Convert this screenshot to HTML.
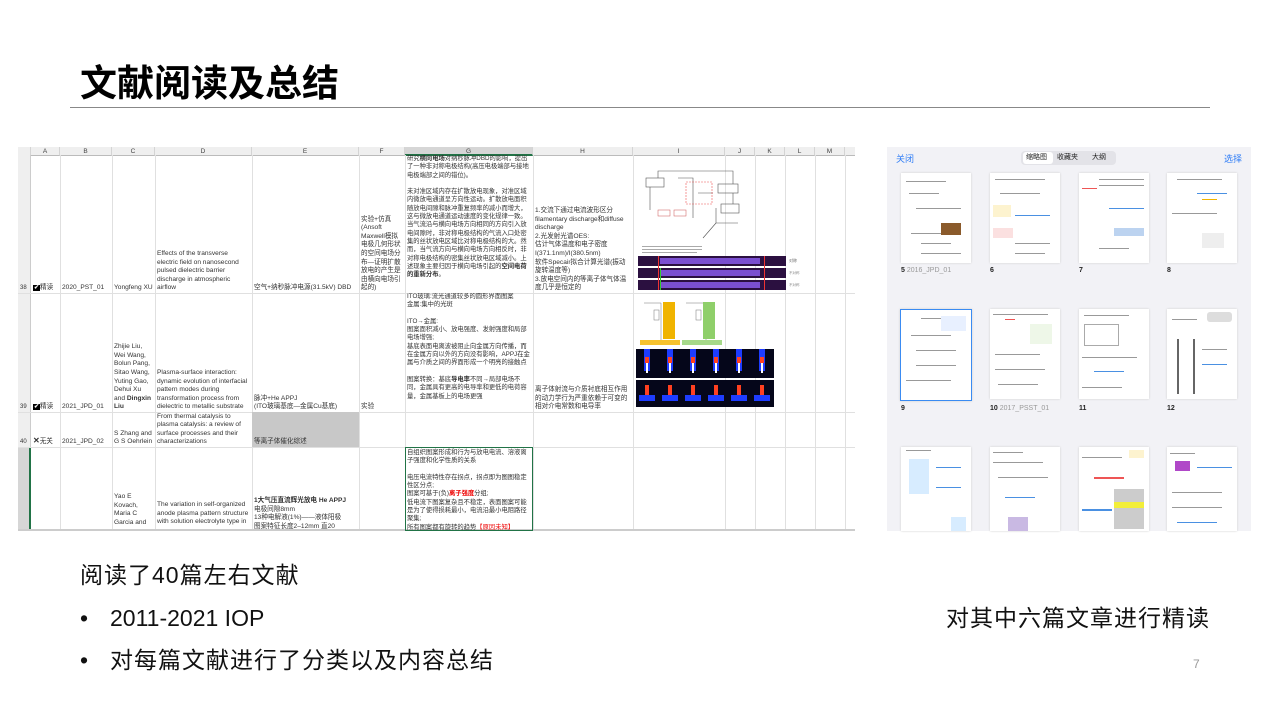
<!DOCTYPE html>
<html><head><meta charset="utf-8"><style>
*{margin:0;padding:0;box-sizing:border-box}
body{width:1280px;height:720px;background:#fff;position:relative;overflow:hidden;font-family:"Liberation Sans","Noto Sans CJK SC",sans-serif;color:#000}
.a{position:absolute}
.c{position:absolute;font-size:6.6px;line-height:8.6px;color:#333;display:flex;flex-direction:column;justify-content:flex-end;padding:0 2px;overflow:hidden}
.g{font-size:6.3px;line-height:8.3px}
.hd{position:absolute;top:147px;height:9px;font-size:6.5px;color:#444;text-align:center;line-height:9px;background:#efefef;border-right:1px solid #d4d4d4;border-bottom:1px solid #bbb}
.vl{position:absolute;top:155px;height:376px;width:1px;background:#e0e0e0}
.hl{position:absolute;left:18px;width:837px;height:1px;background:#e0e0e0}
.th{position:absolute;width:70px;height:90px;background:#fff;box-shadow:0 0 2px #ccc;overflow:hidden}
.th i{position:absolute;height:1px;background:#999}
.lb{position:absolute;font-size:7px;color:#222;font-weight:bold}
.lb span{color:#999;font-weight:normal}
.t{position:absolute;font-size:23px;line-height:28px;color:#111}
</style></head><body>
<div class="a" style="left:80px;top:58px;font-size:37px;font-weight:bold;font-family:'Noto Sans CJK SC',sans-serif;line-height:44px">文献阅读及总结</div>
<div class="a" style="left:70px;top:107px;width:1140px;height:1px;background:#888"></div>

<div class="a" style="left:18px;top:147px;width:837px;height:384px;background:#fff"></div>
<div class="hd" style="left:18px;width:13px"></div>
<div class="hd" style="left:31px;width:29px">A</div>
<div class="hd" style="left:60px;width:52px">B</div>
<div class="hd" style="left:112px;width:43px">C</div>
<div class="hd" style="left:155px;width:97px">D</div>
<div class="hd" style="left:252px;width:107px">E</div>
<div class="hd" style="left:359px;width:46px">F</div>
<div class="hd" style="left:405px;width:128px;background:#d6d6d6;border-bottom:2px solid #217346">G</div>
<div class="hd" style="left:533px;width:100px">H</div>
<div class="hd" style="left:633px;width:92px">I</div>
<div class="hd" style="left:725px;width:30px">J</div>
<div class="hd" style="left:755px;width:30px">K</div>
<div class="hd" style="left:785px;width:30px">L</div>
<div class="hd" style="left:815px;width:30px">M</div>
<div class="hd" style="left:845px;width:10px;border-right:none"></div>
<div class="a" style="left:18px;top:155px;width:13px;height:376px;background:#efefef;border-right:1px solid #ccc"></div>
<div class="a" style="left:18px;top:447px;width:13px;height:84px;background:#d6d6d6;border-right:2px solid #217346"></div>
<div class="vl" style="left:60px"></div><div class="vl" style="left:112px"></div><div class="vl" style="left:155px"></div><div class="vl" style="left:252px"></div><div class="vl" style="left:359px"></div><div class="vl" style="left:405px"></div><div class="vl" style="left:533px"></div><div class="vl" style="left:633px"></div><div class="vl" style="left:725px"></div><div class="vl" style="left:755px"></div><div class="vl" style="left:785px"></div><div class="vl" style="left:815px"></div><div class="vl" style="left:845px"></div>
<div class="hl" style="top:293px"></div><div class="hl" style="top:412px"></div><div class="hl" style="top:447px"></div><div class="a" style="left:18px;top:529px;width:837px;height:2px;background:#ccc"></div>
<div class="a" style="left:252px;top:412px;width:107px;height:35px;background:#c8c8c8"></div>
<div class="a" style="left:405px;top:447px;width:128px;height:84px;border:1.5px solid #217346"></div>

<!-- row 38 -->
<div class="c" style="left:18px;top:155px;width:13px;height:138px;font-size:6px"><div>38</div></div>
<div class="c" style="left:31px;top:155px;width:29px;height:138px"><div><b style="background:#000;color:#fff;font-size:6px;padding:0 1px">✔</b>精读</div></div>
<div class="c" style="left:60px;top:155px;width:52px;height:138px"><div>2020_PST_01</div></div>
<div class="c" style="left:112px;top:155px;width:43px;height:138px"><div>Yongfeng XU</div></div>
<div class="c" style="left:155px;top:155px;width:97px;height:138px"><div>Effects of the transverse electric field on nanosecond pulsed dielectric barrier discharge in atmospheric airflow</div></div>
<div class="c" style="left:252px;top:155px;width:107px;height:138px;white-space:nowrap"><div>空气+纳秒脉冲电源(31.5kV) DBD</div></div>
<div class="c" style="left:359px;top:155px;width:46px;height:138px"><div>实验+仿真(Ansoft Maxwell模拟电极几何形状的空间电场分布—证明扩散放电的产生是由横向电场引起的)</div></div>
<div class="c g" style="left:405px;top:155px;width:128px;height:138px;justify-content:flex-start"><div>研究<b>横向电场</b>对纳秒脉冲DBD的影响，提出了一种非对称电极结构(高压电极端部与接地电极端部之间的错位)。<br><br>未对准区域内存在扩散放电现象，对准区域内微放电通道呈方向性运动。扩散放电面积随放电间隙和脉冲重复频率的减小而增大，这与微放电通道运动速度的变化规律一致。当气流沿与横向电场方向相同的方向引入放电间隙时，非对称电极结构的气流入口处密集的丝状放电区域比对称电极结构的大。然而，当气流方向与横向电场方向相反时，非对称电极结构的密集丝状放电区域减小。上述现象主要归因于横向电场引起的<b>空间电荷的重新分布</b>。</div></div>
<div class="c" style="left:533px;top:155px;width:100px;height:138px"><div>1.交流下通过电流波形区分filamentary discharge和diffuse discharge<br>2.光发射光谱OES:<br>估计气体温度和电子密度I(371.1nm)/I(380.5nm)<br>软件Specair拟合计算光谱(振动旋转温度等)<br>3.放电空间内的等离子体气体温度几乎是恒定的</div></div>
<svg class="a" style="left:638px;top:158px" width="180" height="134">
<g stroke="#555" fill="none" stroke-width="0.6"><rect x="8" y="20" width="18" height="9"/><rect x="80" y="26" width="20" height="9"/><rect x="83" y="46" width="18" height="9"/><path d="M20 20 V13 H95 V26 M12 29 V52 M40 20 H55 V60 M60 35 H75 M95 35 V46"/><rect x="48" y="24" width="26" height="22" stroke="#e55" stroke-dasharray="2 1"/><path d="M78 65 L65 80 M78 65 H100 M78 65 V50"/></g>
<rect x="20" y="52" width="12" height="6" fill="none" stroke="#c55" stroke-width=".5"/><rect x="36" y="52" width="12" height="6" fill="none" stroke="#c55" stroke-width=".5"/>
<g fill="#aaa"><rect x="4" y="88" width="60" height="1"/><rect x="4" y="91" width="60" height="1"/><rect x="4" y="94" width="55" height="1"/></g>
<rect x="0" y="98" width="148" height="10" fill="#2b1040"/><rect x="0" y="110" width="148" height="10" fill="#2b1040"/><rect x="0" y="122" width="148" height="10" fill="#2b1040"/>
<g fill="#7a4fd0"><rect x="22" y="100" width="100" height="6"/><rect x="22" y="112" width="100" height="6"/><rect x="22" y="124" width="100" height="6"/></g>
<rect x="20" y="98" width="1" height="34" fill="#e33"/><rect x="126" y="98" width="1" height="34" fill="#e33"/><rect x="22" y="110" width="1" height="22" fill="#3c3"/>
<text x="151" y="104" font-size="4" fill="#666">对称</text><text x="151" y="116" font-size="3.5" fill="#888">不对称</text><text x="151" y="128" font-size="3.5" fill="#888">不对称</text>
</svg>

<!-- row 39 -->
<div class="c" style="left:18px;top:293px;width:13px;height:119px;font-size:6px"><div>39</div></div>
<div class="c" style="left:31px;top:293px;width:29px;height:119px"><div><b style="background:#000;color:#fff;font-size:6px;padding:0 1px">✔</b>精读</div></div>
<div class="c" style="left:60px;top:293px;width:52px;height:119px"><div>2021_JPD_01</div></div>
<div class="c" style="left:112px;top:293px;width:43px;height:119px"><div>Zhijie Liu, Wei Wang, Bolun Pang, Sitao Wang, Yuting Gao, Dehui Xu and <b>Dingxin Liu</b></div></div>
<div class="c" style="left:155px;top:293px;width:97px;height:119px"><div>Plasma-surface interaction: dynamic evolution of interfacial pattern modes during transformation process from dielectric to metallic substrate</div></div>
<div class="c" style="left:252px;top:293px;width:107px;height:119px"><div>脉冲+He APPJ<br>(ITO玻璃基底—金属Cu基底)</div></div>
<div class="c" style="left:359px;top:293px;width:46px;height:119px"><div>实验</div></div>
<div class="c g" style="left:405px;top:293px;width:128px;height:119px;justify-content:flex-start"><div>ITO玻璃:流光通道较多的圆形界面图案<br>金属:集中的光斑<br><br>ITO→金属:<br>图案面积减小、放电强度、发射强度和局部电场增强;<br>基底表面电离波被阻止向金属方向传播，而在金属方向以外的方向没有影响，APPJ在金属与介质之间的界面形成一个明亮的接触点<br><br>图案转换：基底<b>导电率</b>不同→局部电场不同，金属具有更高的电导率和更低的电荷容量，金属基板上的电场更强</div></div>
<div class="c" style="left:533px;top:293px;width:100px;height:119px"><div>离子体射流与介质衬底相互作用的动力学行为严重依赖于可变的相对介电常数和电导率</div></div>
<svg class="a" style="left:636px;top:295px" width="140" height="112">
<g stroke="#777" fill="none" stroke-width=".5"><path d="M8 8 H25 V50 M50 8 H70 V50"/><rect x="18" y="15" width="5" height="10"/><rect x="60" y="15" width="5" height="10"/></g>
<rect x="27" y="7" width="12" height="37" fill="#f0b400"/><rect x="67" y="7" width="12" height="37" fill="#8fcf6a"/>
<rect x="4" y="45" width="40" height="5" fill="#f6c22f"/><rect x="46" y="45" width="40" height="5" fill="#a6d98a"/>
<rect x="0" y="54" width="138" height="29" fill="#05061a"/><rect x="0" y="85" width="138" height="27" fill="#05061a"/>
<g fill="#1e3cff"><rect x="8" y="54" width="6" height="22"/><rect x="31" y="54" width="6" height="22"/><rect x="54" y="54" width="6" height="22"/><rect x="77" y="54" width="6" height="22"/><rect x="100" y="54" width="6" height="22"/><rect x="123" y="54" width="6" height="22"/>
<rect x="3" y="100" width="16" height="6"/><rect x="26" y="100" width="16" height="6"/><rect x="49" y="100" width="16" height="6"/><rect x="72" y="100" width="16" height="6"/><rect x="95" y="100" width="16" height="6"/><rect x="118" y="100" width="16" height="6"/></g>
<g fill="#ff4020"><rect x="9" y="62" width="4" height="6"/><rect x="32" y="62" width="4" height="6"/><rect x="55" y="62" width="4" height="6"/><rect x="78" y="62" width="4" height="6"/><rect x="101" y="62" width="4" height="6"/><rect x="124" y="62" width="4" height="6"/>
<rect x="9" y="90" width="4" height="10"/><rect x="32" y="90" width="4" height="10"/><rect x="55" y="90" width="4" height="10"/><rect x="78" y="90" width="4" height="10"/><rect x="101" y="90" width="4" height="10"/><rect x="124" y="90" width="4" height="10"/></g>
<g fill="#fff"><rect x="10" y="68" width="2" height="10"/><rect x="33" y="68" width="2" height="10"/><rect x="56" y="68" width="2" height="10"/><rect x="79" y="68" width="2" height="10"/><rect x="102" y="68" width="2" height="10"/><rect x="125" y="68" width="2" height="10"/></g>
</svg>

<!-- row 40 -->
<div class="c" style="left:18px;top:412px;width:13px;height:35px;font-size:6px"><div>40</div></div>
<div class="c" style="left:31px;top:412px;width:29px;height:35px"><div><b style="font-size:8px">✕</b>无关</div></div>
<div class="c" style="left:60px;top:412px;width:52px;height:35px"><div>2021_JPD_02</div></div>
<div class="c" style="left:112px;top:412px;width:43px;height:35px"><div>S Zhang and G S Oehrlein</div></div>
<div class="c" style="left:155px;top:412px;width:97px;height:35px"><div>From thermal catalysis to plasma catalysis: a review of surface processes and their characterizations</div></div>
<div class="c" style="left:252px;top:412px;width:107px;height:35px"><div>等离子体催化综述</div></div>

<!-- row 41 -->
<div class="c" style="left:112px;top:447px;width:43px;height:84px;justify-content:flex-start;padding-top:46px"><div>Yao E Kovach, Maria C Garcia and</div></div>
<div class="c" style="left:155px;top:447px;width:97px;height:84px;justify-content:flex-start;padding-top:54px"><div>The variation in self-organized anode plasma pattern structure with solution electrolyte type in</div></div>
<div class="c" style="left:252px;top:447px;width:107px;height:84px;justify-content:flex-start;padding-top:50px"><div><b>1大气压直流辉光放电 He APPJ</b><br>电极间隙8mm<br>13种电解液(1%)——液体阳极<br>图案特征长度2–12mm 直20</div></div>
<div class="c g" style="left:405px;top:447px;width:128px;height:84px;justify-content:flex-start;padding-top:2px"><div>自组织图案形成和行为与放电电流、溶液离子强度和化学性质的关系<br><br>电压电流特性存在拐点，拐点即为图图稳定性区分点;<br>图案可基于(负)<b style="color:#e00">离子强度</b>分组;<br>低电流下图案复杂且不稳定，表面图案可能是为了使得损耗最小，电流沿最小电阻路径聚集;<br>所有图案都有旋转的趋势<span style="color:#e00">【原因未知】</span></div></div>

<!-- tablet -->
<div class="a" style="left:887px;top:147px;width:364px;height:384px;background:#f2f2f6;overflow:hidden">
<div class="a" style="left:9px;top:5px;font-size:9px;color:#2f7df6">关闭</div>
<div class="a" style="right:9px;top:5px;font-size:9px;color:#2f7df6">选择</div>
<div class="a" style="left:134px;top:4px;width:95px;height:14px;background:#e3e3e8;border-radius:4px"></div>
<div class="a" style="left:136px;top:5px;width:30px;height:12px;background:#fff;border-radius:3px"></div>
<div class="a" style="left:139px;top:5px;font-size:7px;line-height:12px;color:#222">缩略图</div>
<div class="a" style="left:170px;top:5px;font-size:7px;line-height:12px;color:#222">收藏夹</div>
<div class="a" style="left:205px;top:5px;font-size:7px;line-height:12px;color:#222">大纲</div>
</div>
<div class="th" style="left:901px;top:173px"><i style="left:5px;top:8px;width:40px"></i><i style="left:8px;top:20px;width:30px"></i><i style="left:15px;top:35px;width:45px"></i><i style="left:10px;top:60px;width:40px"></i><i style="left:20px;top:70px;width:30px"></i><i style="left:20px;top:80px;width:40px"></i><div class="a" style="left:40px;top:50px;width:20px;height:12px;background:#8a5a2b"></div></div>
<div class="th" style="left:990px;top:173px"><i style="left:5px;top:6px;width:50px"></i><i style="left:10px;top:20px;width:40px"></i><div class="a" style="left:3px;top:32px;width:18px;height:12px;background:#fdf3cf"></div><div class="a" style="left:3px;top:55px;width:20px;height:10px;background:#fbe0e0"></div><i style="left:25px;top:42px;width:35px;background:#4a90e2"></i><i style="left:25px;top:70px;width:35px"></i><i style="left:25px;top:80px;width:30px"></i></div>
<div class="th" style="left:1079px;top:173px"><i style="left:20px;top:6px;width:45px"></i><i style="left:20px;top:12px;width:45px"></i><i style="left:3px;top:15px;width:15px;background:#e55"></i><i style="left:30px;top:35px;width:35px;background:#4a90e2"></i><div class="a" style="left:35px;top:55px;width:30px;height:8px;background:#bcd3f0"></div><i style="left:20px;top:75px;width:30px"></i></div>
<div class="th" style="left:1167px;top:173px"><i style="left:10px;top:6px;width:45px"></i><i style="left:30px;top:20px;width:30px;background:#4a90e2"></i><i style="left:35px;top:26px;width:15px;background:#f0b400"></i><i style="left:5px;top:40px;width:45px"></i><div class="a" style="left:35px;top:60px;width:22px;height:15px;background:#eee"></div></div>
<div class="lb" style="left:901px;top:267px">5 <span>2016_JPD_01</span></div><div class="lb" style="left:990px;top:267px">6</div><div class="lb" style="left:1079px;top:267px">7</div><div class="lb" style="left:1167px;top:267px">8</div>
<div class="th" style="left:900px;top:309px;border:1.5px solid #3a8bf2;width:72px;height:92px"><i style="left:20px;top:8px;width:40px"></i><i style="left:10px;top:25px;width:40px"></i><i style="left:15px;top:40px;width:40px"></i><i style="left:15px;top:55px;width:40px"></i><i style="left:5px;top:70px;width:45px"></i><div class="a" style="left:40px;top:6px;width:25px;height:15px;background:#e8f0ff"></div></div>
<div class="th" style="left:990px;top:309px"><i style="left:3px;top:5px;width:55px"></i><i style="left:15px;top:10px;width:10px;background:#e55"></i><div class="a" style="left:40px;top:15px;width:22px;height:20px;background:#eef7e8"></div><i style="left:5px;top:45px;width:45px"></i><i style="left:5px;top:60px;width:50px"></i><i style="left:8px;top:75px;width:40px"></i></div>
<div class="th" style="left:1079px;top:309px"><i style="left:5px;top:6px;width:45px"></i><div class="a" style="left:5px;top:15px;width:35px;height:22px;border:1px solid #aaa"></div><i style="left:3px;top:48px;width:55px"></i><i style="left:15px;top:62px;width:30px;background:#4a90e2"></i><i style="left:3px;top:78px;width:40px"></i></div>
<div class="th" style="left:1167px;top:309px"><div class="a" style="left:40px;top:3px;width:25px;height:10px;background:#ddd;border-radius:3px"></div><i style="left:5px;top:10px;width:25px"></i><div class="a" style="left:10px;top:30px;width:18px;height:55px;border-left:2px solid #666;border-right:2px solid #666"></div><i style="left:35px;top:40px;width:25px"></i><i style="left:35px;top:55px;width:25px;background:#4a90e2"></i></div>
<div class="lb" style="left:901px;top:405px">9</div><div class="lb" style="left:990px;top:405px">10 <span>2017_PSST_01</span></div><div class="lb" style="left:1079px;top:405px">11</div><div class="lb" style="left:1167px;top:405px">12</div>
<div class="th" style="left:901px;top:447px;height:84px"><div class="a" style="left:8px;top:12px;width:20px;height:35px;background:#d7ecff"></div><i style="left:5px;top:3px;width:25px"></i><i style="left:35px;top:20px;width:25px;background:#4a90e2"></i><i style="left:35px;top:40px;width:25px;background:#4a90e2"></i><div class="a" style="left:50px;top:70px;width:15px;height:14px;background:#d7ecff"></div></div>
<div class="th" style="left:990px;top:447px;height:84px"><i style="left:3px;top:5px;width:30px"></i><i style="left:3px;top:15px;width:50px"></i><i style="left:8px;top:30px;width:50px"></i><i style="left:15px;top:50px;width:30px;background:#4a90e2"></i><div class="a" style="left:18px;top:70px;width:20px;height:14px;background:#c9b9e3"></div></div>
<div class="th" style="left:1079px;top:447px;height:84px"><div class="a" style="left:50px;top:3px;width:15px;height:8px;background:#fdf3cf"></div><i style="left:3px;top:10px;width:40px"></i><i style="left:15px;top:30px;width:30px;background:#e55;height:2px"></i><div class="a" style="left:35px;top:42px;width:30px;height:40px;background:#ccc"></div><div class="a" style="left:35px;top:55px;width:30px;height:6px;background:#f2ee3a"></div><i style="left:3px;top:62px;width:30px;background:#4a90e2;height:2px"></i></div>
<div class="th" style="left:1167px;top:447px;height:84px"><div class="a" style="left:8px;top:14px;width:15px;height:10px;background:#b048c8"></div><i style="left:3px;top:6px;width:25px"></i><i style="left:30px;top:20px;width:35px;background:#4a90e2"></i><i style="left:5px;top:45px;width:50px"></i><i style="left:5px;top:60px;width:50px"></i><i style="left:10px;top:75px;width:40px;background:#4a90e2"></i></div>

<div class="t" style="left:80px;top:561px;letter-spacing:1px">阅读了40篇左右文献</div>
<div class="t" style="left:80px;top:604px">•</div><div class="t" style="left:110px;top:604px">2011-2021 IOP</div>
<div class="t" style="left:80px;top:646px">•</div><div class="t" style="left:110px;top:646px;letter-spacing:1px">对每篇文献进行了分类以及内容总结</div>
<div class="t" style="left:946px;top:604px;letter-spacing:1px">对其中六篇文章进行精读</div>
<div class="a" style="left:1193px;top:657px;font-size:12px;color:#999">7</div>
</body></html>
